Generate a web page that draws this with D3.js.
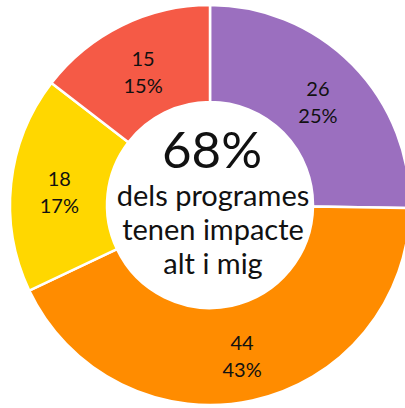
<!DOCTYPE html>
<html>
<head>
<meta charset="utf-8">
<script src="https://cdn.jsdelivr.net/npm/d3@7"></script>
<style>
  body { margin: 0; background: #fff; }
  text { font-family: Lato, "Open Sans", sans-serif; fill: #111; }
</style>
</head>
<body>
<div id="chart"></div>
<script>
// slices, clockwise from 12 o'clock
var categories = ["alt", "mig", "baix", "nul"];
var counts = [26, 44, 18, 15];
var percents = ["25%", "43%", "17%", "15%"];
var colors = ["#9b6fbf", "#ff8c00", "#ffd700", "#f55a46"];

var centerLines = ["dels programes", "tenen impacte", "alt i mig"];
var centerValue = "68%";

var width = 405, height = 408;
var cx = 210, cy = 205;
var outerR = 200, innerR = 103;

var svg = d3.select("#chart")
  .append("svg")
    .attr("width", width)
    .attr("height", height)
  .append("g")
    .attr("transform", "translate(" + cx + "," + cy + ")");

var pie = d3.pie()
  .sort(null)
  .value(function(d) { return d; });

var arc = d3.arc()
  .innerRadius(innerR)
  .outerRadius(outerR);

var slices = svg.selectAll(".slice")
  .data(pie(counts))
  .enter().append("g")
    .attr("class", "slice");

slices.append("path")
  .attr("d", arc)
  .attr("fill", function(d, i) { return colors[i]; })
  .attr("stroke", "#fff")
  .attr("stroke-width", 2.5);

// value + percent labels at the centroid
slices.append("text")
  .attr("transform", function(d) {
    var c = arc.centroid(d);
    return "translate(" + c[0] + "," + c[1] + ")";
  })
  .attr("text-anchor", "middle")
  .style("font-size", "20px")
  .each(function(d, i) {
    var t = d3.select(this);
    t.append("tspan").attr("x", 0).attr("y", -3).text(counts[i]);
    t.append("tspan").attr("x", 0).attr("y", 24).text(percents[i]);
  });

// center text
svg.append("text")
  .attr("x", 2)
  .attr("y", -37)
  .attr("text-anchor", "middle")
  .style("font-size", "51px")
  .text(centerValue);

centerLines.forEach(function(line, i) {
  svg.append("text")
    .attr("x", 3)
    .attr("y", 1 + i * 34)
    .attr("text-anchor", "middle")
    .style("font-size", "29px")
    .text(line);
});
</script>
</body>
</html>
